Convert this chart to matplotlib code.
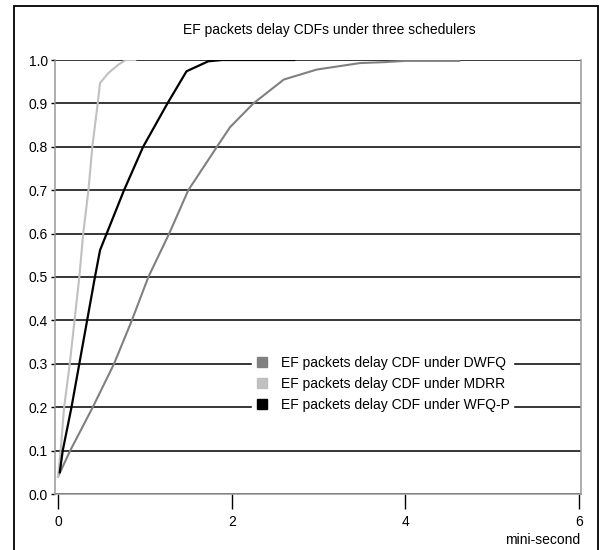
import matplotlib.pyplot as plt
from matplotlib.lines import Line2D
from matplotlib.patches import Rectangle

plt.rcParams['font.family'] = ['Liberation Sans', 'DejaVu Sans']

# data
dwfq_x = [0.0, 0.14, 0.40, 0.645, 0.85, 1.04, 1.28, 1.50, 1.83, 1.98, 2.25, 2.60, 2.98, 3.48, 3.75, 4.0, 4.62]
dwfq_y = [0.04, 0.10, 0.20, 0.30, 0.40, 0.50, 0.60, 0.70, 0.80, 0.845, 0.90, 0.955, 0.978, 0.993, 0.995, 0.998, 0.998]

mdrr_x = [0.0, 0.03, 0.07, 0.135, 0.19, 0.245, 0.29, 0.35, 0.395, 0.457, 0.484, 0.58, 0.70, 0.78, 0.89]
mdrr_y = [0.04, 0.10, 0.20, 0.30, 0.40, 0.50, 0.60, 0.70, 0.80, 0.90, 0.947, 0.97, 0.99, 1.0, 1.0]

wfqp_x = [0.02, 0.054, 0.155, 0.245, 0.335, 0.425, 0.484, 0.56, 0.76, 0.98, 1.26, 1.48, 1.73, 1.89, 2.72]
wfqp_y = [0.05, 0.10, 0.20, 0.30, 0.40, 0.50, 0.562, 0.60, 0.70, 0.80, 0.90, 0.974, 0.997, 1.0, 1.0]

labels = ['EF packets delay CDF under DWFQ',
          'EF packets delay CDF under MDRR',
          'EF packets delay CDF under WFQ-P']
colors = ['#808080', '#c0c0c0', '#000000']

yticks = [0.0, 0.1, 0.2, 0.3, 0.4, 0.5, 0.6, 0.7, 0.8, 0.9, 1.0]
xticks = [0, 2, 4, 6]

fig = plt.figure(figsize=(6, 5.5), dpi=100)
ax = fig.add_axes([55 / 600, 1 - 494 / 550, 526 / 600, 434 / 550])

ax.plot(dwfq_x, dwfq_y, color=colors[0], lw=1.5)
ax.plot(mdrr_x, mdrr_y, color=colors[1], lw=1.5)
ax.plot(wfqp_x, wfqp_y, color=colors[2], lw=1.6)

ax.set_xlim(-0.035, 6.023)
ax.set_ylim(0, 1)
ax.set_yticks(yticks)
ax.set_yticklabels(['%.1f' % v for v in yticks], fontsize=10)
ax.set_xticks(xticks)
ax.set_xticklabels([str(v) for v in xticks], fontsize=10)
ax.tick_params(axis='y', length=3, width=1, pad=2, color='black')
ax.tick_params(axis='x', length=11, width=1, pad=4, color='black')

ax.set_axisbelow(True)
ax.grid(axis='y', color='black', lw=1.1)
ax.spines['top'].set_visible(False)
for s in ['left', 'right', 'bottom']:
    ax.spines[s].set_color('#999999')
    ax.spines[s].set_linewidth(1.1)

handles = [Line2D([], [], marker='s', linestyle='none', markersize=7,
                  color=c) for c in colors]
leg = ax.legend(handles, labels, loc='upper left',
                bbox_to_anchor=(252 / 600, 1 - 353 / 550),
                bbox_transform=fig.transFigure, fontsize=10,
                handlelength=1.0, handletextpad=0.9, labelspacing=0.5,
                borderpad=0.2, borderaxespad=0, fancybox=False,
                framealpha=1)
leg.get_frame().set_edgecolor('white')
leg.get_frame().set_facecolor('white')

fig.text(0.549, 1 - 30 / 550, 'EF packets delay CDFs under three schedulers',
         ha='center', va='center', fontsize=10)
fig.text(580 / 600, 1 - 540 / 550, 'mini-second', ha='right', va='center',
         fontsize=10)

# outer frame
fig.patches.append(Rectangle((14 / 600, -0.05), 584 / 600, 1.05 - 6 / 550,
                             transform=fig.transFigure, fill=False,
                             edgecolor='black', lw=1.3))

fig.savefig('out.png', dpi=100)
